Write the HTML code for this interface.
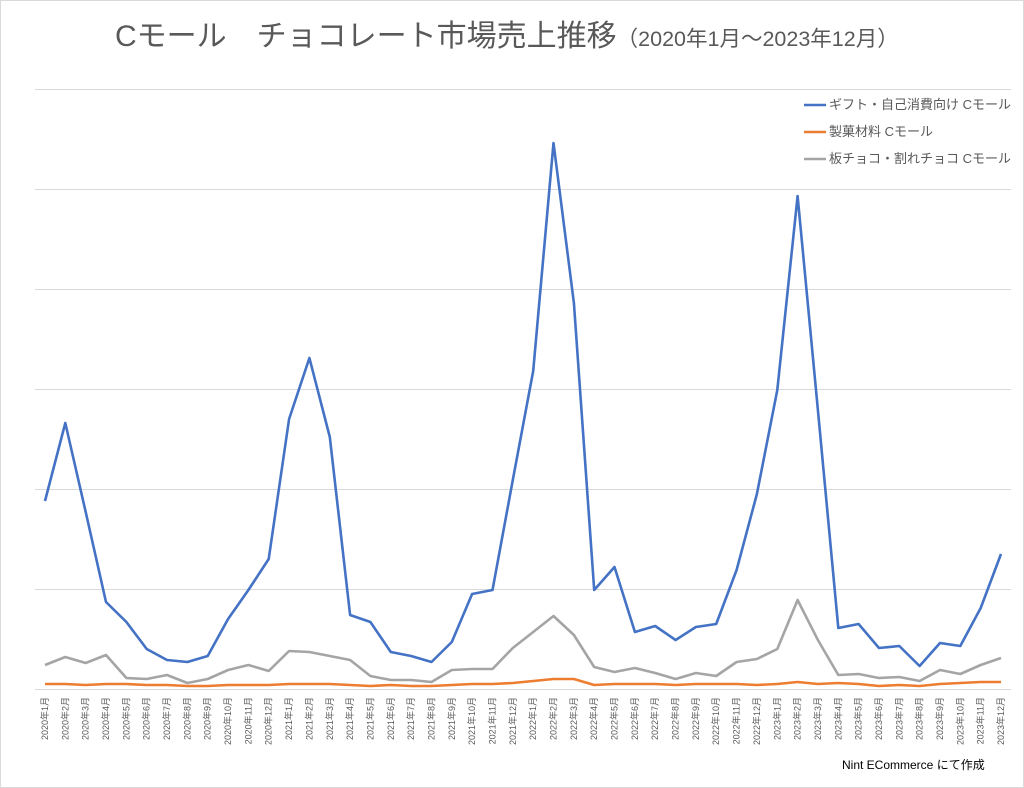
<!DOCTYPE html>
<html><head><meta charset="utf-8"><style>
body{margin:0;background:#fff}
svg{display:block}
text{font-family:"Liberation Sans","Noto Sans CJK JP",sans-serif;fill:#595959}
</style></head><body>
<svg id="s" width="1024" height="788" xmlns="http://www.w3.org/2000/svg">
<rect x="0.5" y="0.5" width="1023" height="787" fill="#fff" stroke="#d9d9d9"/>
<text x="115" y="46" font-size="30">Cモール　チョコレート市場売上推移<tspan font-size="21.5">（2020年1月～2023年12月）</tspan></text>
<g id="grid" stroke="#d9d9d9" stroke-width="1"></g>
<g id="lines" fill="none" stroke-width="2.6" stroke-linejoin="round"></g>
<g id="lab"></g>
<line x1="804" y1="105" x2="826" y2="105" stroke="#4472c4" stroke-width="2.6"/>
<text x="829" y="109" font-size="13">ギフト・自己消費向け Cモール</text>
<line x1="804" y1="132" x2="826" y2="132" stroke="#ed7d31" stroke-width="2.6"/>
<text x="829" y="136" font-size="13">製菓材料 Cモール</text>
<line x1="804" y1="159" x2="826" y2="159" stroke="#a5a5a5" stroke-width="2.6"/>
<text x="829" y="163" font-size="13">板チョコ・割れチョコ Cモール</text>
<text x="842" y="769" font-size="12" style="fill:#000">Nint ECommerce にて作成</text>
</svg>
<script>
var ns="http://www.w3.org/2000/svg";
function el(t,a,p){var e=document.createElementNS(ns,t);for(var k in a)e.setAttribute(k,a[k]);p.appendChild(e);return e;}
var g=document.getElementById('grid');
for(var i=0;i<7;i++){var y=89+i*100;el('line',{x1:35,x2:1011,y1:y+.5,y2:y+.5},g);}
var blue=[501,423,512,602,622,649,660,662,656,619,590,559,419,358,437,615,622,652,656,662,642,594,590,480,371,143,303,590,567,632,626,640,627,624,570,494,390,196,410,628,624,648,646,666,643,646,608,554];
var gray=[665,657,663,655,678,679,675,683,679,670,665,671,651,652,656,660,676,680,680,682,670,669,669,648,632,616,635,667,672,668,673,679,673,676,662,659,649,600,640,675,674,678,677,681,670,674,665,658];
var orange=[684,684,685,684,684,685,685,686,686,685,685,685,684,684,684,685,686,685,686,686,685,684,684,683,681,679,679,685,684,684,684,685,684,684,684,685,684,682,684,683,684,686,685,686,684,683,682,682];
var L=document.getElementById('lines');
function x(i){return 45+i*(956/47);}
[[gray,'#a5a5a5'],[orange,'#ed7d31'],[blue,'#4472c4']].forEach(function(s){
 var d=s[0].map(function(v,i){return (i?'L':'M')+x(i).toFixed(1)+' '+v;}).join(' ');
 el('path',{d:d,stroke:s[1]},L);});
var lab=document.getElementById('lab');
for(var i=0;i<48;i++){var yr=2020+Math.floor(i/12),m=i%12+1;
 var t=el('text',{'font-size':'9',transform:'translate('+(x(i)+3)+',697) rotate(-90)','text-anchor':'end'},lab);
 t.textContent=yr+'年'+m+'月';}
</script>
</body></html>
